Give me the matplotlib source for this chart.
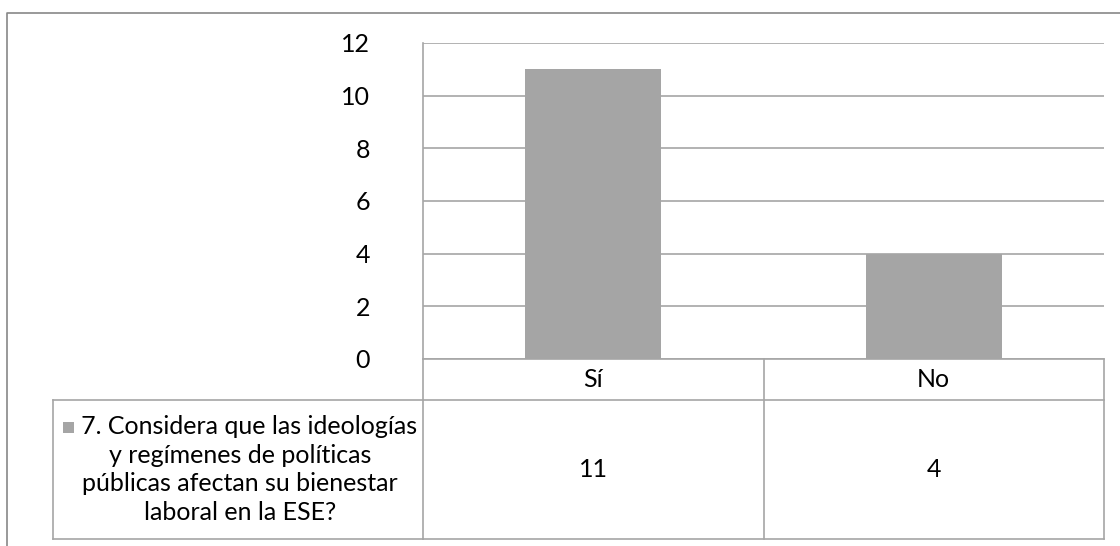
import matplotlib
matplotlib.use("Agg")
import matplotlib.pyplot as plt
from matplotlib.lines import Line2D
from matplotlib.patches import Rectangle
import matplotlib.transforms as mtransforms

categories = ["Sí", "No"]
values = [11, 4]
series_name = ("7. Considera que las ideologías\n"
               "y regímenes de políticas\n"
               "públicas afectan su bienestar\n"
               "laboral en la ESE?")
yticks = [0, 2, 4, 6, 8, 10, 12]

W, H = 1120, 546
bar_color = "#a5a5a5"
line_color = "#a6a6a6"
font = "Lato"
fs = 18

fig = plt.figure(figsize=(W / 100, H / 100), dpi=100)

def px(x, y):
    # pixel position (from top-left) -> figure fraction
    return x / W, 1 - y / H

# plot area
left, right, top, bottom = 423, 1104, 43, 359
ax = fig.add_axes([left / W, 1 - bottom / H, (right - left) / W, (bottom - top) / H])
xs = list(range(len(categories)))
ax.bar(xs, values, width=0.4, color=bar_color, zorder=2)
ax.set_xlim(-0.5, len(categories) - 0.5)
ax.set_ylim(0, 12)
ax.set_yticks(yticks)
ax.set_yticklabels([str(t) for t in yticks], fontsize=fs, fontname=font)
ax.tick_params(axis="y", length=0, pad=38)
ax.set_xticks([])
ax.grid(axis="y", color=line_color, linewidth=1.2, zorder=0)
for s in ["top", "right", "bottom"]:
    ax.spines[s].set_visible(False)
ax.spines["left"].set_color(line_color)
ax.spines["left"].set_linewidth(1.2)

# data table under the plot: x in data units, y in figure pixels
trans = mtransforms.blended_transform_factory(ax.transData, fig.transFigure)
row1, row2, row3 = 359, 400, 539

def hline(x0, x1, y, t=trans):
    fig.add_artist(Line2D([x0, x1], [1 - y / H] * 2, transform=t,
                          color=line_color, linewidth=1.2))

def vline(x, y0, y1, t=trans):
    fig.add_artist(Line2D([x, x], [1 - y0 / H, 1 - y1 / H], transform=t,
                          color=line_color, linewidth=1.2))

xmin, xmax = ax.get_xlim()
hline(xmin, xmax, row1)
hline(xmin, xmax, row2)
hline(xmin, xmax, row3)
for i in range(len(categories) + 1):
    vline(xmin + i, row1, row3)

for i, (c, v) in enumerate(zip(categories, values)):
    fig.text(i, 1 - (row1 + row2) / 2 / H, c, transform=trans, ha="center",
             va="center", fontsize=fs, fontname=font)
    fig.text(i, 1 - (row2 + row3) / 2 / H, str(v), transform=trans, ha="center",
             va="center", fontsize=fs, fontname=font)

# legend cell on the left of the value row
lx0, lx1 = 53, left
ft = fig.transFigure
fig.add_artist(Line2D([lx0 / W, lx1 / W], [1 - row2 / H] * 2, transform=ft,
                      color=line_color, linewidth=1.2))
fig.add_artist(Line2D([lx0 / W, lx1 / W], [1 - row3 / H] * 2, transform=ft,
                      color=line_color, linewidth=1.2))
fig.add_artist(Line2D([lx0 / W, lx0 / W], [1 - row2 / H, 1 - row3 / H], transform=ft,
                      color=line_color, linewidth=1.2))
lines = series_name.split("\n")
lines[0] = "   " + lines[0]
leg = fig.text(*px(240, (row2 + row3) / 2), "\n".join(lines), ha="center", va="center",
               multialignment="center", fontsize=fs, fontname=font, linespacing=1.3)

# legend key square in front of the first line
fig.canvas.draw()
bb = leg.get_window_extent()
line_h = bb.height / len(lines)
fig.add_artist(Rectangle(((bb.x0 + 1) / W, (bb.y1 - line_h / 2 - 4) / H), 11 / W, 11 / H,
                         transform=ft, facecolor=bar_color, edgecolor="none"))

# outer chart border
fig.add_artist(Line2D([7 / W, 7 / W, 1.0], [0, 1 - 13 / H, 1 - 13 / H], transform=ft,
                      color="#888888", linewidth=1.2))

fig.savefig("out.png", dpi=100)
